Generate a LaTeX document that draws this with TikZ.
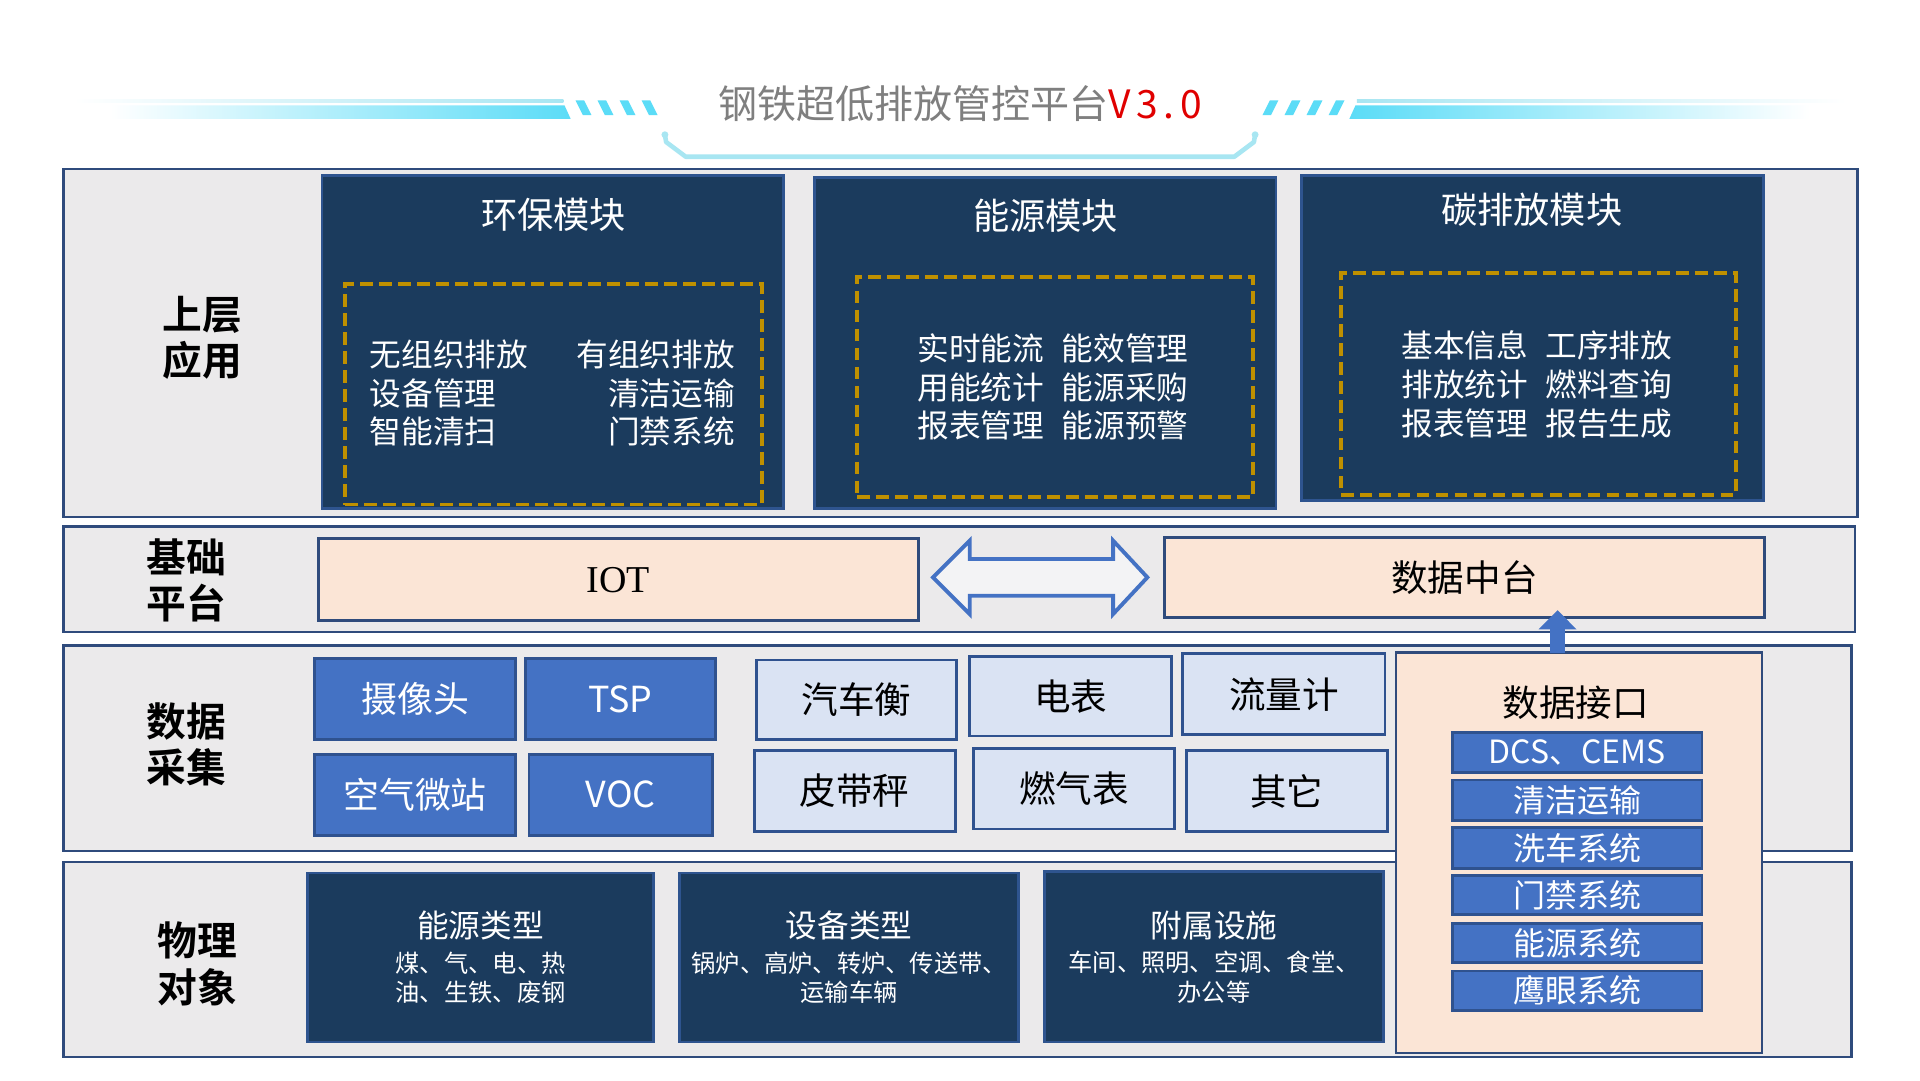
\documentclass[tikz,border=0pt]{standalone}
\usepackage{fontspec}
\setmainfont{Noto Sans CJK SC}[BoldFont={Noto Sans CJK SC Bold}]
\newfontfamily\serifl{Liberation Serif}
\usetikzlibrary{arrows.meta,calc}
\definecolor{layerfill}{HTML}{EBEAEB}
\definecolor{layerdraw}{HTML}{2F4B7C}
\definecolor{navy}{HTML}{1B3B5D}
\definecolor{navydraw}{HTML}{2E548F}
\definecolor{gold}{HTML}{BF9000}
\definecolor{peach}{HTML}{FBE5D6}
\definecolor{midblue}{HTML}{4472C4}
\definecolor{bluedraw}{HTML}{2F528F}
\definecolor{paleblue}{HTML}{DAE3F3}
\definecolor{titlegray}{HTML}{7F7F7F}
\definecolor{vred}{HTML}{E00000}
\definecolor{cyanbar}{HTML}{5BDCF7}
\definecolor{cyanline}{HTML}{A8E6F2}
\definecolor{arrowfill}{HTML}{F3F3F5}
% box node: [style](name){x1}{y1}{x2}{y2}{text}
\def\bxn[#1](#2)#3#4#5#6#7{\node[#1, minimum width={(#5-#3)*0.012245cm}, minimum height={(#6-#4)*0.012245cm}] (#2) at ({(#3+#5)/2},{(#4+#6)/2}) {#7};}
\begin{document}
\begin{tikzpicture}[x=0.012245cm, y=-0.012245cm,
  every node/.style={inner sep=0pt, outer sep=0pt},
  layer/.style={draw=layerdraw, fill=layerfill, line width=0.7pt},
  module/.style={draw=navydraw, fill=navy, line width=0.8pt},
  dashbox/.style={draw=gold, line width=1.1pt, dash pattern=on 3.6pt off 1.8pt},
  peachbox/.style={draw=layerdraw, fill=peach, line width=0.8pt, font=\fontsize{10.4}{12}\selectfont},
  bluebox/.style={draw=bluedraw, fill=midblue, line width=0.8pt, text=white, font=\fontsize{10.2}{12}\selectfont},
  palebox/.style={draw=bluedraw, fill=paleblue, line width=0.8pt, text=black, font=\fontsize{10.4}{12}\selectfont},
  ifbox/.style={draw=bluedraw, fill=midblue, line width=0.8pt, text=white, font=\fontsize{9.1}{11}\selectfont},
  physbox/.style={module, text=white, align=center, font=\fontsize{6.9}{8.4}\selectfont},
  layerlabel/.style={font=\bfseries\fontsize{11.3}{13.2}\selectfont, align=center},
  modtitle/.style={text=white, font=\fontsize{10.3}{12}\selectfont},
  modtext/.style={text=white, font=\fontsize{9}{11}\selectfont}]
\useasboundingbox (0,0) rectangle (1568,882);
\fill[white] (0,0) rectangle (1568,882);

% ---- title decoration ----
\shade[left color=white, right color=cyanline] (60,81) rectangle (460,83.5);
\shade[left color=white, right color=cyanbar] (90,86) -- (461,86) -- (466,97) -- (90,97) -- cycle;
\foreach \s in {470,488,506,524}
  \fill[cyanbar] (\s,82) -- (\s+7,82) -- (\s+13,94) -- (\s+6,94) -- cycle;
\shade[left color=cyanline, right color=white] (1108,81) rectangle (1508,83.5);
\shade[left color=cyanbar, right color=white] (1107,86) -- (1478,86) -- (1478,97) -- (1102,97) -- cycle;
\foreach \s in {470,488,506,524}
  \fill[cyanbar] (1568-\s-7,82) -- (1568-\s,82) -- (1568-\s-6,94) -- (1568-\s-13,94) -- cycle;
\draw[cyanline, line width=1.3pt, line join=round] (543,110) -- (544,116) -- (560,128) -- (1008,128) -- (1024,116) -- (1025,110);
\fill[cyanline] (543,110) circle (2.8);
\fill[cyanline] (1025,110) circle (2.8);
\node[text=titlegray, font=\fontsize{11.1}{13}\selectfont] (title) at (784,85)
  {钢铁超低排放管控平台{\color{vred}\addfontfeatures{LetterSpace=14}V3.0}};

% ---- layers ----
\bxn[layer](L1){52}{138}{1517}{422}{}
\bxn[layer](L2){52}{430}{1515}{516}{}
\bxn[layer](L3){52}{527}{1512}{695}{}
\bxn[layer](L4){52}{704}{1512}{863}{}

\node[layerlabel] (lab1) at (165,276) {上层\\应用};
\node[layerlabel] (lab2) at (152,474) {基础\\平台};
\node[layerlabel] (lab3) at (152,608) {数据\\采集};
\node[layerlabel] (lab4) at (161,787) {物理\\对象};

% ---- upper application modules ----
\bxn[module](m1){263}{143}{640}{415}{}
\bxn[dashbox](d1){282}{232}{622}{412}{}
\node[modtitle] (t1) at (452,175) {环保模块};
\node[modtext, anchor=west, align=left] (c1a) at (302,321) {无组织排放\\设备管理\\智能清扫};
\node[modtext, anchor=east, align=right] (c1b) at (600,321) {有组织排放\\清洁运输\\门禁系统};

\bxn[module](m2){665}{145}{1042}{415}{}
\bxn[dashbox](d2){700}{226}{1023}{406}{}
\node[modtitle] (t2) at (854,176) {能源模块};
\node[modtext, align=center] (c2) at (860,316)
  {实时能流\hspace{5pt}能效管理\\用能统计\hspace{5pt}能源采购\\报表管理\hspace{5pt}能源预警};

\bxn[module](m3){1063}{143}{1440}{409}{}
\bxn[dashbox](d3){1095}{223}{1418}{404}{}
\node[modtitle] (t3) at (1251,171) {碳排放模块};
\node[modtext, align=center] (c3) at (1255,314)
  {基本信息\hspace{5pt}工序排放\\排放统计\hspace{5pt}燃料查询\\报表管理\hspace{5pt}报告生成};

% ---- base platform ----
\bxn[peachbox, font=\serifl\fontsize{10.8}{12}\selectfont](iot){260}{440}{750}{507}{IOT}
\bxn[peachbox](dzt){951}{439}{1441}{504}{数据中台}
\coordinate (dl) at ($(iot.east)+(12,-2)$);
\coordinate (dr) at ($(dzt.west)+(-14,0)$);
\draw[midblue, fill=arrowfill, line width=1.1pt, line join=miter]
  (dl) -- ($(dl)+(30,-30)$) -- ($(dl)+(30,-15)$) -- ($(dr)+(-28,-15)$) -- ($(dr)+(-28,-30)$)
  -- (dr) -- ($(dr)+(-28,30)$) -- ($(dr)+(-28,15)$) -- ($(dl)+(30,15)$) -- ($(dl)+(30,30)$) -- cycle;

% ---- data acquisition ----
\bxn[bluebox](cam){257}{538}{421}{604}{摄像头}
\bxn[bluebox](tsp){429}{538}{584}{604}{TSP}
\bxn[bluebox](air){257}{616}{421}{682}{空气微站}
\bxn[bluebox](voc){432}{616}{582}{682}{VOC}
\bxn[palebox](qch){618}{539}{781}{604}{汽车衡}
\bxn[palebox](db){792}{536}{957}{601}{电表}
\bxn[palebox](llj){966}{534}{1131}{600}{流量计}
\bxn[palebox](pdc){616}{613}{780}{679}{皮带秤}
\bxn[palebox](rqb){795}{611}{959}{677}{燃气表}
\bxn[palebox](qt){969}{613}{1133}{679}{其它}

% ---- physical objects ----
\bxn[physbox](p1){251}{713}{534}{851}{{\fontsize{9}{9}\selectfont 能源类型}\\[1.4pt]煤、气、电、热\\油、生铁、废钢}
\bxn[physbox](p2){555}{713}{832}{851}{{\fontsize{9}{9}\selectfont 设备类型}\\[1.4pt]锅炉、高炉、转炉、传送带、\\运输车辆}
\bxn[physbox](p3){853}{712}{1130}{851}{{\fontsize{9}{9}\selectfont 附属设施}\\[1.4pt]车间、照明、空调、食堂、\\办公等}

% ---- data interface panel ----
\bxn[draw=layerdraw, fill=peach, line width=0.7pt](panel){1140}{533}{1439}{860}{}
\node[font=\fontsize{10.4}{12}\selectfont] (pt) at (1287,574) {数据接口};
\bxn[ifbox](i1){1186}{598}{1390}{631}{DCS、CEMS}
\bxn[ifbox](i2){1186}{637}{1390}{670}{清洁运输}
\bxn[ifbox](i3){1186}{676}{1390}{709}{洗车系统}
\bxn[ifbox](i4){1186}{715}{1390}{747}{门禁系统}
\bxn[ifbox](i5){1186}{754}{1390}{786}{能源系统}
\bxn[ifbox](i6){1186}{793}{1390}{825}{鹰眼系统}

\coordinate (ua) at ($(panel.north)+(-17.5,0)$);
\draw[midblue, line width=4.2pt, shorten >=-2pt, -{Triangle[width=10.5pt,length=5.5pt]}] (ua) -- (ua |- dzt.south);
\end{tikzpicture}
\end{document}
